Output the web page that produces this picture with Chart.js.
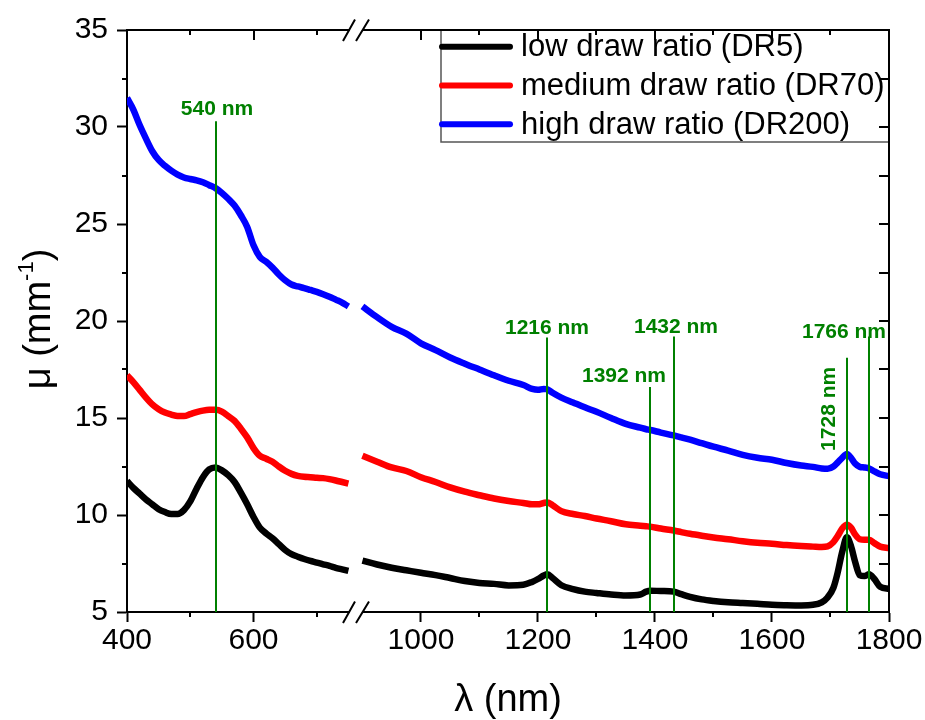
<!DOCTYPE html>
<html>
<head>
<meta charset="utf-8">
<title>Attenuation coefficient vs wavelength</title>
<script src="https://cdn.jsdelivr.net/npm/chart.js@4.4.1/dist/chart.umd.min.js"></script>
<style>
  html, body { margin: 0; padding: 0; background: #fff; overflow: hidden; }
</style>
</head>
<body>
<canvas id="muChart" width="925" height="720"></canvas>
<script>
// wavelength grids (nm), one for each side of the axis break
var visNm = [400, 410, 420, 430, 440, 450, 460, 470, 480, 490, 500, 510, 520, 530, 540, 550, 560, 570,
             580, 590, 600, 610, 620, 630, 640, 650, 660, 670, 680, 690, 700, 710, 720, 730, 740, 750];
var nirNm = [900, 925, 950, 975, 1000, 1025, 1050, 1075, 1100, 1125, 1150, 1175, 1190, 1200, 1210, 1216,
             1225, 1240, 1260, 1280, 1300, 1325, 1350, 1375, 1385, 1392, 1410, 1432, 1445, 1460, 1480, 1500,
             1525, 1550, 1575, 1600, 1625, 1650, 1670, 1685, 1695, 1705, 1712, 1720, 1728, 1735, 1742, 1750,
             1758, 1766, 1775, 1785, 1800];

// mu (mm^-1) per draw ratio
var lowVis = [11.75, 11.4, 11.1, 10.8, 10.55, 10.3, 10.15, 10.05, 10.05, 10.25, 10.7, 11.35, 11.95, 12.35,
              12.45, 12.3, 12.05, 11.7, 11.15, 10.55, 9.9, 9.35, 9.05, 8.8, 8.5, 8.2, 7.98, 7.85, 7.73, 7.63,
              7.55, 7.46, 7.38, 7.28, 7.2, 7.12];
var lowNir = [7.65, 7.45, 7.28, 7.15, 7.02, 6.9, 6.75, 6.6, 6.5, 6.45, 6.37, 6.4, 6.55, 6.7, 6.88, 6.95,
              6.75, 6.38, 6.18, 6.05, 5.98, 5.9, 5.85, 5.9, 6.05, 6.1, 6.08, 6.05, 5.92, 5.78, 5.65, 5.57,
              5.5, 5.46, 5.42, 5.37, 5.35, 5.34, 5.37, 5.5, 5.75, 6.25, 7.0, 8.1, 8.85, 8.4, 7.6, 6.9,
              6.85, 6.95, 6.7, 6.3, 6.2];
var medVis = [17.2, 16.85, 16.45, 16.05, 15.7, 15.45, 15.28, 15.18, 15.1, 15.1, 15.2, 15.3, 15.38, 15.42,
              15.42, 15.33, 15.1, 14.85, 14.45, 14.0, 13.45, 13.05, 12.9, 12.75, 12.5, 12.28, 12.12, 12.02,
              11.97, 11.95, 11.92, 11.9, 11.85, 11.78, 11.7, 11.62];
var medNir = [13.05, 12.75, 12.45, 12.27, 11.95, 11.7, 11.42, 11.2, 11.02, 10.85, 10.72, 10.62, 10.55, 10.55,
              10.62, 10.65, 10.5, 10.2, 10.05, 9.95, 9.82, 9.68, 9.52, 9.45, 9.42, 9.4, 9.3, 9.2, 9.12, 9.03,
              8.93, 8.84, 8.75, 8.65, 8.57, 8.52, 8.45, 8.4, 8.37, 8.35, 8.38, 8.6, 8.9, 9.3, 9.5, 9.35, 9.0,
              8.75, 8.72, 8.72, 8.55, 8.37, 8.3];
var highVis = [31.5, 30.9, 30.1, 29.4, 28.75, 28.3, 28.0, 27.75, 27.55, 27.4, 27.32, 27.25, 27.15, 27.0,
               26.85, 26.6, 26.3, 25.95, 25.45, 24.85, 23.9, 23.3, 23.05, 22.75, 22.4, 22.1, 21.88, 21.78,
               21.7, 21.6, 21.5, 21.38, 21.25, 21.1, 20.95, 20.75];
var highNir = [20.75, 20.2, 19.7, 19.35, 18.85, 18.5, 18.12, 17.8, 17.5, 17.2, 16.92, 16.7, 16.5, 16.45,
               16.5, 16.48, 16.3, 16.05, 15.8, 15.55, 15.32, 15.0, 14.7, 14.5, 14.42, 14.38, 14.25, 14.1, 14.0,
               13.88, 13.7, 13.52, 13.32, 13.1, 12.95, 12.85, 12.68, 12.55, 12.48, 12.4, 12.38, 12.5, 12.7,
               12.95, 13.15, 12.95, 12.65, 12.48, 12.45, 12.4, 12.25, 12.1, 12.0];

var seriesNames = ['low draw ratio (DR5)', 'medium draw ratio (DR70)', 'high draw ratio (DR200)'];
var seriesColors = ['#000000', '#ff0000', '#0000ff'];

// absorption bands marked on the plot and the mu value their guide line reaches
var bandNm = [540, 1216, 1392, 1432, 1728, 1766];
var bandTop = [30.3, 19.15, 16.6, 19.2, 18.1, 19.2];

var visTicks = [400, 600];
var nirTicks = [1000, 1200, 1400, 1600, 1800];
var visMinor = [500, 700];
var nirMinor = [1100, 1300, 1500, 1700];
var yTicks = [5, 10, 15, 20, 25, 30, 35];

var FONT = "'Liberation Sans', Arial, sans-serif";
var GREEN = '#008000';

function seg(i, nm, vals, axis) {
	return {
		label: seriesNames[i],
		data: nm.map(function (w, k) { return {x: w, y: vals[k]}; }),
		xAxisID: axis,
		borderColor: seriesColors[i],
		backgroundColor: seriesColors[i],
		borderWidth: 6.5,
		pointRadius: 0,
		fill: false,
		cubicInterpolationMode: 'monotone',
		borderCapStyle: 'butt',
		borderJoinStyle: 'round'
	};
}

function xAxis(min, max, weight, ticks) {
	return {
		type: 'linear', position: 'bottom', stack: 'wl', stackWeight: weight,
		min: min, max: max,
		afterBuildTicks: function (s) { s.ticks = ticks.map(function (v) { return {value: v}; }); },
		afterFit: function (s) { s.height = 108; s.paddingLeft = 0; s.paddingRight = 0; },
		ticks: {font: {family: FONT, size: 30}, color: '#000', padding: 1, autoSkip: false, maxRotation: 0,
			callback: function (v) { return String(v); }},
		grid: {drawOnChartArea: false, tickLength: 10, tickWidth: 2, tickColor: '#000'},
		border: {color: '#000', width: 2}
	};
}

// guide lines for the bands, with their labels
var bandPlugin = {
	id: 'bands',
	afterDatasetsDraw: function (chart) {
		var ctx = chart.ctx, ca = chart.chartArea, y = chart.scales.y;
		// label shift from the top of each line: [dx, dy]
		var shift = [[1, -6], [0, -3], [-26, -5], [2, -4], [-12, 51], [-25, 1]];
		ctx.save();
		ctx.strokeStyle = GREEN;
		ctx.fillStyle = GREEN;
		ctx.lineWidth = 2;
		ctx.font = 'bold 21px ' + FONT;
		bandNm.forEach(function (nm, i) {
			var sc = nm < 800 ? chart.scales.xVis : chart.scales.xNir;
			var x = Math.round(sc.getPixelForValue(nm));
			var top = y.getPixelForValue(bandTop[i]);
			ctx.beginPath();
			ctx.moveTo(x, ca.bottom);
			ctx.lineTo(x, top);
			ctx.stroke();
			var txt = nm + ' nm';
			if (nm == 1728) {
				ctx.save();
				ctx.translate(x + shift[i][0], top + shift[i][1]);
				ctx.rotate(-Math.PI / 2);
				ctx.textAlign = 'center';
				ctx.textBaseline = 'alphabetic';
				ctx.fillText(txt, 0, 0);
				ctx.restore();
			} else {
				ctx.textAlign = 'center';
				ctx.textBaseline = 'alphabetic';
				ctx.fillText(txt, x + shift[i][0], top + shift[i][1]);
			}
		});
		ctx.restore();
	}
};

// legend box, frame, minor ticks, axis break and titles
var framePlugin = {
	id: 'frame',
	afterDraw: function (chart) {
		var ctx = chart.ctx, ca = chart.chartArea, y = chart.scales.y;
		var xv = chart.scales.xVis, xn = chart.scales.xNir;
		ctx.save();

		// legend
		var lx = ca.right - 448, ly = ca.top, lh = 112;
		ctx.fillStyle = '#fff';
		ctx.fillRect(lx, ly, ca.right - lx, lh);
		ctx.strokeStyle = '#555';
		ctx.lineWidth = 1.5;
		ctx.strokeRect(lx, ly, ca.right - lx, lh);
		ctx.font = '31px ' + FONT;
		ctx.textAlign = 'left';
		ctx.textBaseline = 'middle';
		seriesNames.forEach(function (name, i) {
			var ry = ly + 16.7 + i * 38.8;
			ctx.strokeStyle = seriesColors[i];
			ctx.lineWidth = 6;
			ctx.lineCap = 'round';
			ctx.beginPath();
			ctx.moveTo(lx + 1, ry);
			ctx.lineTo(lx + 69, ry);
			ctx.stroke();
			ctx.fillStyle = '#000';
			ctx.fillText(name, lx + 80, ry + 1);
		});
		ctx.lineCap = 'butt';

		// top and right sides of the frame
		ctx.strokeStyle = '#000';
		ctx.lineWidth = 2;
		ctx.beginPath();
		ctx.moveTo(ca.left - 1, ca.top);
		ctx.lineTo(ca.right, ca.top);
		ctx.lineTo(ca.right, ca.bottom + 1);
		ctx.stroke();

		function vtick(x, y0, len) {
			x = Math.round(x);
			ctx.beginPath(); ctx.moveTo(x, y0); ctx.lineTo(x, y0 + len); ctx.stroke();
		}
		function htick(x0, yy, len) {
			yy = Math.round(yy);
			ctx.beginPath(); ctx.moveTo(x0, yy); ctx.lineTo(x0 + len, yy); ctx.stroke();
		}
		// x ticks: inward on top, minor outward at the bottom
		visTicks.forEach(function (v) { vtick(xv.getPixelForValue(v), ca.top, 10); });
		nirTicks.forEach(function (v) { vtick(xn.getPixelForValue(v), ca.top, 10); });
		visMinor.forEach(function (v) {
			vtick(xv.getPixelForValue(v), ca.top, 5);
			vtick(xv.getPixelForValue(v), ca.bottom, 5);
		});
		nirMinor.forEach(function (v) {
			vtick(xn.getPixelForValue(v), ca.top, 5);
			vtick(xn.getPixelForValue(v), ca.bottom, 5);
		});
		// y ticks: minor outward on the left, all inward on the right
		for (var v = 5; v <= 35; v += 2.5) {
			if (v % 5) htick(ca.left, y.getPixelForValue(v), -5);
			htick(ca.right, y.getPixelForValue(v), -10);
		}

		// axis break marks
		var bx = xv.right;
		[ca.top, ca.bottom].forEach(function (yy) {
			ctx.fillStyle = '#fff';
			ctx.fillRect(bx - 6, yy - 2, 12, 4);
			ctx.strokeStyle = '#000';
			ctx.lineWidth = 2;
			ctx.beginPath();
			ctx.moveTo(bx - 13, yy + 11); ctx.lineTo(bx - 1, yy - 10.5);
			ctx.moveTo(bx, yy + 11); ctx.lineTo(bx + 13, yy - 10.5);
			ctx.stroke();
		});

		// axis titles
		ctx.fillStyle = '#000';
		ctx.textBaseline = 'alphabetic';
		ctx.textAlign = 'center';
		ctx.font = '38px ' + FONT;
		ctx.fillText('\u03bb (nm)', (ca.left + ca.right) / 2, 711);

		ctx.translate(50, 319);
		ctx.rotate(-Math.PI / 2);
		ctx.textAlign = 'left';
		var big = '38px ' + FONT, small = '22px ' + FONT;
		ctx.font = big;
		var wa = ctx.measureText('\u03bc (mm').width, wb = ctx.measureText(')').width;
		ctx.font = small;
		var ws = ctx.measureText('-1').width;
		var x0 = -(wa + ws + wb) / 2;
		ctx.font = big;
		ctx.fillText('\u03bc (mm', x0, 0);
		ctx.font = small;
		ctx.fillText('-1', x0 + wa, -17);
		ctx.font = big;
		ctx.fillText(')', x0 + wa + ws, 0);
		ctx.restore();
	}
};

new Chart('muChart', {
	type: 'line',
	data: {
		datasets: [
			seg(0, visNm, lowVis, 'xVis'), seg(0, nirNm, lowNir, 'xNir'),
			seg(1, visNm, medVis, 'xVis'), seg(1, nirNm, medNir, 'xNir'),
			seg(2, visNm, highVis, 'xVis'), seg(2, nirNm, highNir, 'xNir')
		]
	},
	options: {
		responsive: false,
		animation: false,
		devicePixelRatio: 1,
		layout: {padding: {left: 0, right: 36, top: 30, bottom: 0}},
		plugins: {legend: {display: false}, tooltip: {enabled: false}},
		scales: {
			xVis: xAxis(400, 762, 229, visTicks),
			xNir: xAxis(889, 1800, 533, nirTicks),
			y: {
				min: 5, max: 35,
				afterBuildTicks: function (s) { s.ticks = yTicks.map(function (v) { return {value: v}; }); },
				afterFit: function (s) { s.width = 127; s.paddingTop = 0; s.paddingBottom = 0; },
				ticks: {font: {family: FONT, size: 30}, color: '#000', padding: 9,
					callback: function (v) { return String(v); }},
				grid: {drawOnChartArea: false, tickLength: 10, tickWidth: 2, tickColor: '#000'},
				border: {color: '#000', width: 2}
			}
		}
	},
	plugins: [bandPlugin, framePlugin]
});
</script>
</body>
</html>
